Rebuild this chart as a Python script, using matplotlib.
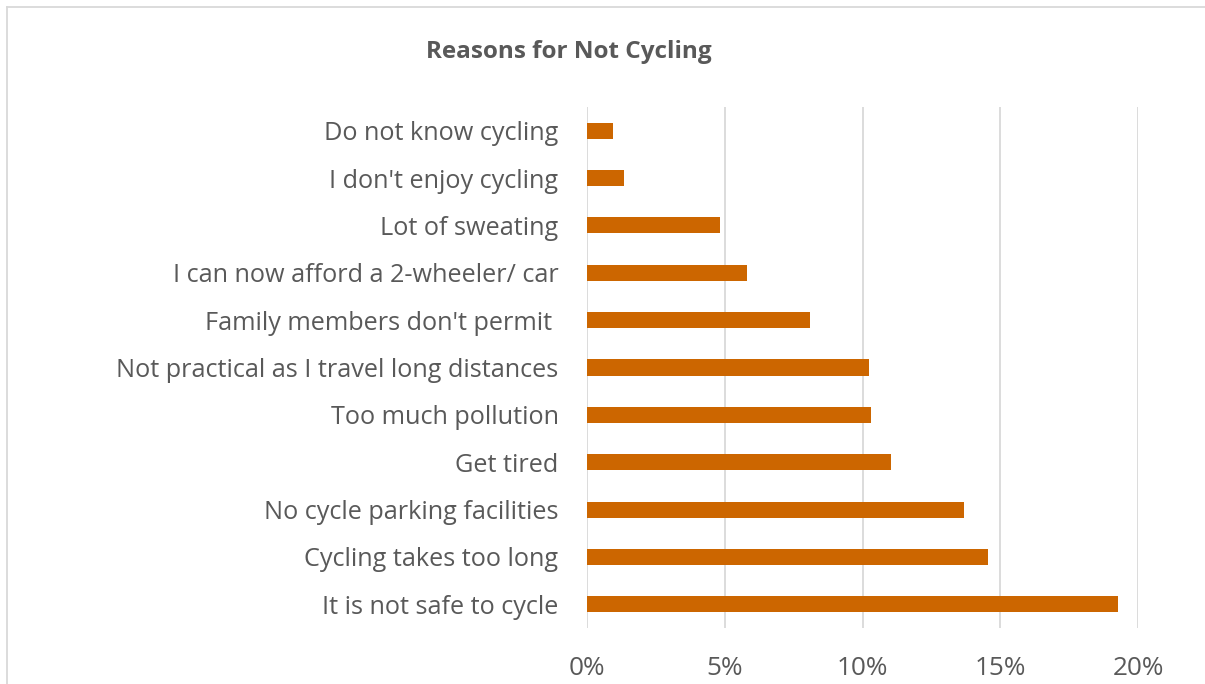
import matplotlib
matplotlib.use("Agg")
import matplotlib.pyplot as plt
from matplotlib.ticker import FuncFormatter

# reasons, listed bottom to top
reasons = ["It is not safe to cycle",
           "Cycling takes too long",
           "No cycle parking facilities",
           "Get tired",
           "Too much pollution",
           "Not practical as I travel long distances",
           "Family members don't permit ",
           "I can now afford a 2-wheeler/ car",
           "Lot of sweating",
           "I don't enjoy cycling",
           "Do not know cycling"]
shares = [0.1928, 0.1455, 0.1367, 0.1104, 0.1032, 0.1022,
          0.0808, 0.0581, 0.0483, 0.0135, 0.0093]
x_ticks = [0, 0.05, 0.10, 0.15, 0.20]

plt.rcParams['font.family'] = ['Open Sans', 'DejaVu Sans']
grey = "#595959"

fig = plt.figure(figsize=(12.05, 6.84), dpi=100)
ax = fig.add_axes([587 / 1205, 1 - 628 / 684, 551 / 1205, 521 / 684])

ypos = list(range(len(reasons)))
ax.barh(ypos, shares, height=0.34, color="#CC6600", zorder=3)

ax.set_xlim(0, 0.20)
ax.set_ylim(-0.5, len(reasons) - 0.5)
ax.set_xticks(x_ticks)
ax.xaxis.set_major_formatter(FuncFormatter(lambda v, p: "%d%%" % round(v * 100)))
ax.set_yticks(ypos)
ax.set_yticklabels(reasons)

ax.grid(axis="x", color="#D9D9D9", linewidth=1.3, zorder=0)
for s in ax.spines.values():
    s.set_visible(False)
ax.tick_params(axis="both", length=0, colors=grey)
ax.tick_params(axis="y", pad=20.5, labelsize=18.2)
ax.tick_params(axis="x", pad=20, labelsize=18.8)

fig.text(569 / 1205, 1 - 52 / 684, "Reasons for Not Cycling", ha="center", va="center",
         fontsize=17.5, fontweight="bold", color=grey)

# chart border (left and top visible)
fig.add_artist(plt.Line2D([7 / 1205, 7 / 1205], [0, 1 - 7 / 684], color="#D9D9D9", lw=1.3))
fig.add_artist(plt.Line2D([7 / 1205, 1], [1 - 7 / 684, 1 - 7 / 684], color="#D9D9D9", lw=1.3))

fig.savefig("out.png", dpi=100)
